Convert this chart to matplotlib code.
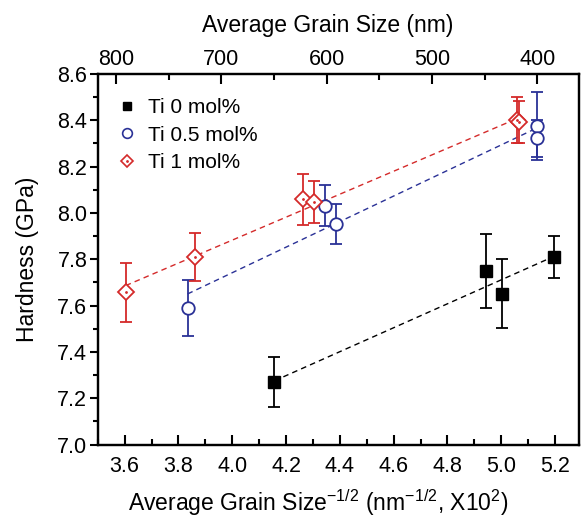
import numpy as np
import matplotlib
matplotlib.use("Agg")
import matplotlib.pyplot as plt
from matplotlib.lines import Line2D
from matplotlib.ticker import MultipleLocator, FormatStrFormatter

plt.rcParams['font.family'] = ['Liberation Sans', 'DejaVu Sans']
plt.rcParams['mathtext.fontset'] = 'custom'
plt.rcParams['mathtext.rm'] = 'Liberation Sans'
plt.rcParams['mathtext.it'] = 'Liberation Sans:italic'
plt.rcParams['mathtext.bf'] = 'Liberation Sans:bold'

# ---- data ----
ti0_x = [4.157, 4.943, 5.004, 5.196]
ti0_y = [7.270, 7.750, 7.652, 7.811]
ti0_err = [0.11, 0.16, 0.15, 0.09]

ti05_x = [3.834, 4.343, 4.384, 5.134, 5.134]
ti05_y = [7.590, 8.032, 7.952, 8.374, 8.323]
ti05_err = [0.12, 0.088, 0.088, 0.147, 0.08]

ti1_x = [3.604, 3.863, 4.262, 4.303, 5.058, 5.066]
ti1_y = [7.657, 7.811, 8.059, 8.046, 8.400, 8.392]
ti1_err = [0.127, 0.104, 0.109, 0.09, 0.10, 0.09]

labels = ["Ti 0 mol%", "Ti 0.5 mol%", "Ti 1 mol%"]
black = "#000000"
blue = "#2a3196"
red = "#d42a2a"

TICK_FS = 15.5
LABEL_FS = 16.5
LEG_FS = 15

fig = plt.figure(figsize=(5.84, 5.19), dpi=100)
ax = fig.add_axes([0.1673, 0.1435, 0.8247, 0.7139])

def fit_line(x, y, color):
    p = np.polyfit(x, y, 1)
    xs = np.array([min(x), max(x)])
    ax.plot(xs, np.polyval(p, xs), linestyle=(0, (4, 3)), color=color, lw=1.0, zorder=1)

fit_line(ti0_x, ti0_y, black)
fit_line(ti05_x, ti05_y, blue)
fit_line(ti1_x, ti1_y, red)

ax.errorbar(ti0_x, ti0_y, yerr=ti0_err, fmt='s', color=black, ms=8, mfc=black,
            mec=black, ecolor=black, elinewidth=1.3, capsize=4, capthick=1.3, zorder=3)
ax.errorbar(ti05_x, ti05_y, yerr=ti05_err, fmt='o', color=blue, ms=9, mfc='white',
            mec=blue, mew=1.3, ecolor=blue, elinewidth=1.3, capsize=4, capthick=1.3, zorder=3)
ax.errorbar(ti1_x, ti1_y, yerr=ti1_err, fmt='D', color=red, ms=8, mfc='white',
            mec=red, mew=1.3, ecolor=red, elinewidth=1.3, capsize=4, capthick=1.3, zorder=3)
ax.plot(ti1_x, ti1_y, linestyle='none', marker='.', ms=2, color=red, zorder=4)

ax.set_xlim(3.5, 5.29)
ax.set_ylim(7.0, 8.6)
ax.xaxis.set_major_locator(MultipleLocator(0.2))
ax.xaxis.set_minor_locator(MultipleLocator(0.1))
ax.yaxis.set_major_locator(MultipleLocator(0.2))
ax.yaxis.set_minor_locator(MultipleLocator(0.1))
ax.xaxis.set_major_formatter(FormatStrFormatter('%.1f'))
ax.yaxis.set_major_formatter(FormatStrFormatter('%.1f'))

ax.tick_params(axis='x', which='major', direction='in', length=7, width=1.5, labelsize=TICK_FS, pad=8.5)
ax.tick_params(axis='x', which='minor', direction='in', length=4, width=1.5)
ax.tick_params(axis='y', which='major', direction='out', length=6, width=1.5, labelsize=TICK_FS, pad=1.5)
ax.tick_params(axis='y', which='minor', direction='out', length=3.5, width=1.5)
for s in ax.spines.values():
    s.set_linewidth(1.6)

ax.set_ylabel("Hardness (GPa)", fontsize=LABEL_FS, labelpad=13)
ax.set_xlabel("Average Grain Size$^{\\mathrm{-1/2}}$ (nm$^{\\mathrm{-1/2}}$, X10$^{\\mathrm{2}}$)",
              fontsize=LABEL_FS, labelpad=7.5)
ax.xaxis.label.set_x(0.457)

top = ax.twiny()
top.set_xlim(817.5, 360)
top.xaxis.set_major_locator(MultipleLocator(100))
top.xaxis.set_minor_locator(MultipleLocator(50))
top.tick_params(axis='x', which='major', direction='in', length=7, width=1.5, labelsize=TICK_FS, pad=3)
top.tick_params(axis='x', which='minor', direction='in', length=4, width=1.5)
top.set_xlabel("Average Grain Size (nm)", fontsize=LABEL_FS, labelpad=12)
top.xaxis.label.set_x(0.478)
for s in top.spines.values():
    s.set_linewidth(1.6)

h0 = Line2D([], [], linestyle='none', marker='s', ms=6, color=black)
h1 = Line2D([], [], linestyle='none', marker='o', ms=7, mfc='white', mec=blue, mew=1.2)
h2a = Line2D([], [], linestyle='none', marker='D', ms=6, mfc='white', mec=red, mew=1.2)
h2b = Line2D([], [], linestyle='none', marker='.', ms=2, color=red)
ax.legend([h0, h1, (h2a, h2b)], labels, loc='upper left', bbox_to_anchor=(0.0, 0.985),
          frameon=False, fontsize=LEG_FS, handlelength=1.0, handletextpad=0.5,
          labelspacing=0.4, borderaxespad=0.5)

fig.savefig("out.png", dpi=100)
